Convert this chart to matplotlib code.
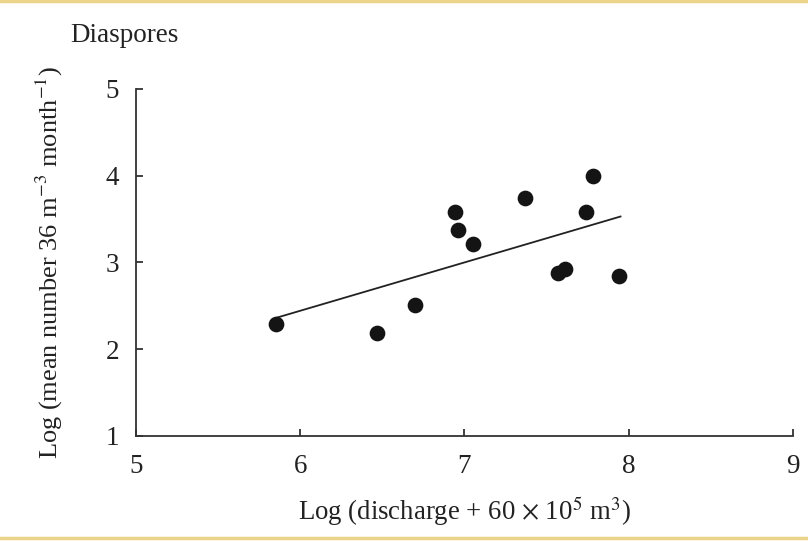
import matplotlib.pyplot as plt
from matplotlib.lines import Line2D

plt.rcParams['font.family'] = ['Liberation Serif', 'DejaVu Serif']
plt.rcParams['mathtext.fontset'] = 'stix'

# datos
log_discharge = [5.85, 6.47, 6.70, 6.94, 6.96, 7.05, 7.37, 7.78, 7.74, 7.57, 7.61, 7.94]
log_diaspores = [2.29, 2.19, 2.51, 3.58, 3.37, 3.21, 3.74, 4.00, 3.58, 2.88, 2.92, 2.84]

# recta de regresion (extremos)
fit_x = [5.85, 7.95]
fit_y = [2.36, 3.53]

xticks = [5, 6, 7, 8, 9]
yticks = [1, 2, 3, 4, 5]

fig = plt.figure(figsize=(8.08, 5.41), dpi=100)
ax = fig.add_axes([0.1683, 0.1941, 0.8131, 0.6414])

ax.plot(fit_x, fit_y, color='#222222', lw=1.3, zorder=2)
ax.plot(log_discharge, log_diaspores, 'o', color='#141414', ms=10.3, zorder=3)

ax.set_xlim(5, 9)
ax.set_ylim(1, 5)
ax.set_xticks(xticks)
ax.set_yticks(yticks)
ax.spines['top'].set_visible(False)
ax.spines['right'].set_visible(False)
for s in ['left', 'bottom']:
    ax.spines[s].set_color('#333333')
    ax.spines[s].set_linewidth(1.3)
ax.tick_params(direction='in', length=5, width=1.3, color='#333333',
               labelsize=19.5, labelcolor='#222222')
ax.tick_params(axis='x', pad=13)
ax.tick_params(axis='y', pad=12)

ax.set_xlabel(r'Log (discharge + 60 $\times$ 10$^{5}$ m$^{3}$)', fontsize=19.3,
              color='#222222', labelpad=11)
ax.set_ylabel(r'Log (mean number 36 m$^{-3}$ month$^{-1}$)', fontsize=19,
              color='#222222', labelpad=29)

fig.text(0.087, 0.935, 'Diaspores', fontsize=19.5, color='#222222', va='center')

# bordes amarillos arriba y abajo
fig.add_artist(Line2D([0, 1], [0.998, 0.998], color='#ecd38a', lw=2.5, transform=fig.transFigure))
fig.add_artist(Line2D([0, 1], [0.006, 0.006], color='#ecd38a', lw=2.5, transform=fig.transFigure))

fig.savefig('out.png', dpi=100)
